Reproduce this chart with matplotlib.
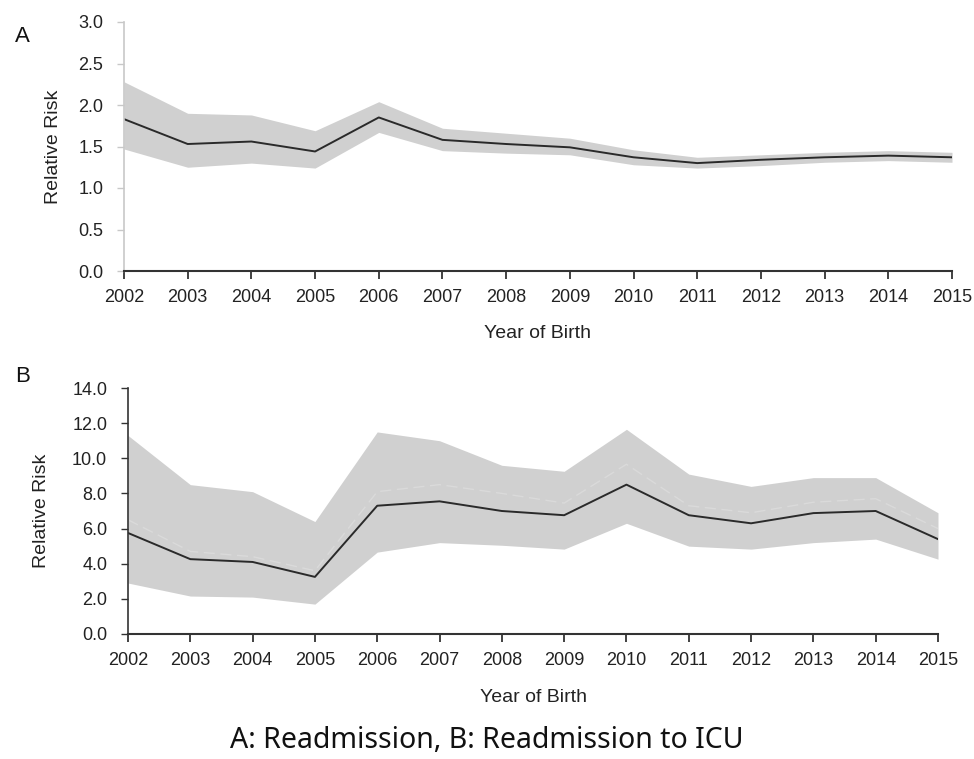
import matplotlib
matplotlib.use("Agg")
import matplotlib.pyplot as plt

years = list(range(2002, 2016))

# A: Readmission
rr_a = [1.83, 1.53, 1.56, 1.44, 1.85, 1.58, 1.53, 1.49, 1.37, 1.30, 1.34, 1.37, 1.39, 1.37]
hi_a = [2.28, 1.90, 1.88, 1.69, 2.04, 1.72, 1.66, 1.60, 1.46, 1.37, 1.40, 1.43, 1.45, 1.43]
lo_a = [1.47, 1.25, 1.30, 1.24, 1.67, 1.45, 1.42, 1.40, 1.28, 1.24, 1.27, 1.31, 1.33, 1.31]

# B: Readmission to ICU
rr_b = [5.75, 4.26, 4.10, 3.25, 7.30, 7.55, 7.00, 6.76, 8.50, 6.76, 6.30, 6.88, 7.00, 5.40]
hi_b = [11.3, 8.50, 8.10, 6.40, 11.5, 11.0, 9.60, 9.26, 11.65, 9.10, 8.40, 8.90, 8.90, 6.90]
lo_b = [2.90, 2.16, 2.10, 1.70, 4.66, 5.20, 5.05, 4.83, 6.30, 5.00, 4.83, 5.20, 5.40, 4.26]
mid_b = [6.50, 4.70, 4.40, 3.60, 8.10, 8.50, 8.00, 7.45, 9.66, 7.30, 6.90, 7.50, 7.70, 6.00]

plt.rcParams['font.family'] = ['Liberation Sans', 'DejaVu Sans']

fig = plt.figure(figsize=(9.74, 7.59), dpi=100)
W, H = 974, 759

def setup(ax, ymax, step, left_col, ylab_x):
    ax.set_xlim(2002, 2015)
    ax.set_ylim(0, ymax)
    ax.set_xticks(years)
    ax.set_xticklabels([str(y) for y in years])
    yt = [i * step for i in range(int(round(ymax / step)) + 1)]
    ax.set_yticks(yt)
    ax.set_yticklabels(['{:.1f}'.format(v) for v in yt])
    for s in ['top', 'right']:
        ax.spines[s].set_visible(False)
    ax.spines['bottom'].set_color('#333333')
    ax.spines['bottom'].set_linewidth(1.5)
    ax.spines['left'].set_color(left_col)
    ax.spines['left'].set_linewidth(1.2)
    ax.tick_params(axis='x', direction='out', length=6, width=1.3, color='#333333',
                   labelsize=13, pad=7, labelcolor='#222222')
    ax.tick_params(axis='y', direction='out', length=5, width=1.0, color=left_col,
                   labelsize=13, pad=10, labelcolor='#222222')
    ax.set_xlabel('Year of Birth', fontsize=14, color='#222222', labelpad=14)
    ax.set_ylabel('Relative Risk', fontsize=14, color='#222222')
    ax.yaxis.set_label_coords(ylab_x, 0.5)

# panel A
ax1 = fig.add_axes([124 / W, 1 - 271 / H, (952 - 124) / W, (271 - 22) / H])
ax1.fill_between(years, lo_a, hi_a, color='#d0d0d0', linewidth=0)
ax1.plot(years, rr_a, color='#2a2a2a', linewidth=1.4)
setup(ax1, 3.0, 0.5, '#c8c8c8', (62 - 124) / 828)

# panel B
ax2 = fig.add_axes([128 / W, 1 - 634 / H, (938 - 128) / W, (634 - 388) / H])
ax2.fill_between(years, lo_b, hi_b, color='#d0d0d0', linewidth=0)
ax2.plot(years, mid_b, color='#dadada', linewidth=1.0, linestyle=(0, (8, 4)))
ax2.plot(years, rr_b, color='#2a2a2a', linewidth=1.4)
setup(ax2, 14.0, 2.0, '#333333', (50 - 128) / 810)

fig.text(15 / W, 1 - 36 / H, 'A', fontsize=16, color='#111111', va='center', ha='left')
fig.text(15 / W, 1 - 376 / H, 'B', fontsize=16, color='#111111', va='center', ha='left')
fig.text(487 / W, 1 - 740 / H, 'A: Readmission, B: Readmission to ICU', fontsize=20.5,
         family=['Noto Sans', 'DejaVu Sans'], color='#111111', ha='center', va='center')

fig.savefig('out.png', dpi=100, facecolor='white')
